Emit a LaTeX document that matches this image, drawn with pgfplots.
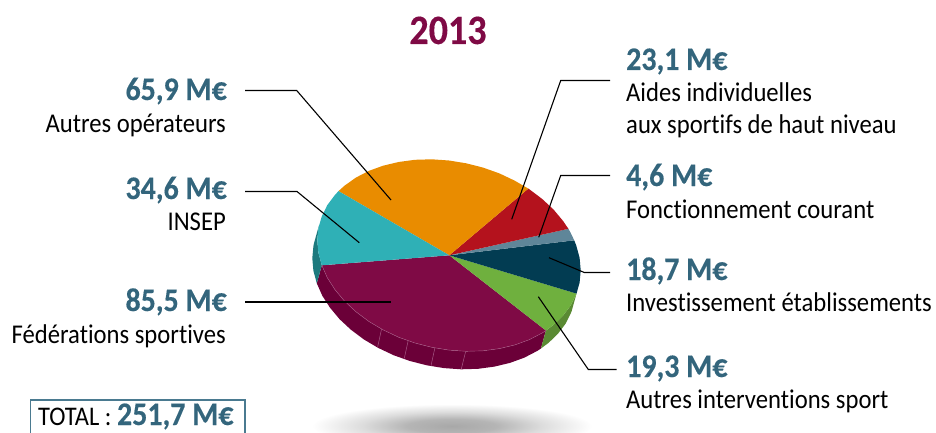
\documentclass[border=0pt]{standalone}
\usepackage{pgfplots}
\pgfplotsset{compat=1.18}
\usepackage{fontspec}
\setmainfont{Carlito}[FakeStretch=0.91,Ligatures=CommonOff,BoldFeatures={FakeBold=0.3}]
\definecolor{corange}{HTML}{E98C00}
\definecolor{cteal}{HTML}{2FB0B6}
\definecolor{cpurple}{HTML}{7F0A45}
\definecolor{cgreen}{HTML}{6FB03E}
\definecolor{cnavy}{HTML}{023C52}
\definecolor{cslate}{HTML}{5F8699}
\definecolor{cred}{HTML}{B4121D}
\definecolor{wpurple}{HTML}{6B0038}
\definecolor{wteal}{HTML}{1C7A7E}
\definecolor{wgreen}{HTML}{5A8A33}
\definecolor{lpurple}{HTML}{A65A85}
\definecolor{cval}{HTML}{33657C}
\definecolor{cbox}{HTML}{4A7A90}
\definecolor{shd}{HTML}{A8A8A8}
\pgfdeclareradialshading{shadowell}{\pgfpoint{0cm}{0cm}}{color(0bp)=(shd); color(8bp)=(shd!85!white); color(16bp)=(shd!40!white); color(25bp)=(white); color(50bp)=(white)}
\newcommand{\val}[3]{\node[anchor=base #1,inner sep=0pt,text=cval,font=\fontsize{33}{33}\selectfont\bfseries] at (axis cs:#2) {#3};}
\newcommand{\lab}[3]{\node[anchor=base #1,inner sep=0pt,text=black,font=\fontsize{27.2}{27.2}\selectfont] at (axis cs:#2) {#3};}
\begin{document}
\begin{tikzpicture}[x=1bp,y=1bp]
\path[use as bounding box] (0,0) rectangle (936,432);
\begin{axis}[at={(0,0)},anchor=south west,width=936bp,height=432bp,scale only axis,hide axis,
  xmin=0,xmax=936,ymin=0,ymax=432,y dir=reverse,enlargelimits=false]
\shade[shading=shadowell] (axis cs:452,426) ellipse [x radius=140bp,y radius=22bp];
% walls
\addplot[fill=wpurple,draw=none] coordinates {(545.9,330.5)(542.1,333.0)(529.2,339.7)(514.9,344.9)(499.4,348.6)(483.1,350.8)(466.2,351.3)(449,350.1)(431.8,347.3)(414.9,343.0)(398.6,337.2)(383.2,329.9)(368.8,321.4)(355.9,311.7)(344.5,301.1)(335.0,289.7)(327.3,277.7)(321.8,265.3)
 (316.8,283.3)(322.3,295.7)(330.0,307.7)(339.5,319.1)(350.9,329.7)(363.8,339.4)(378.2,347.9)(393.6,355.2)(409.9,361.0)(426.8,365.3)(444,368.1)(461.2,369.3)(478.1,368.8)(494.4,366.6)(509.9,362.9)(524.2,357.7)(537.1,351.0)(540.9,348.5)};
\addplot[fill=wgreen,draw=none] coordinates {(576.5,293.6)(576.2,294.3)(570.7,305.5)(563.0,315.7)(553.5,324.9)(545.9,330.5)(540.9,348.5)(548.5,342.9)(558.0,333.7)(565.7,323.5)(571.2,312.3)(571.5,311.6)};
\addplot[fill=wteal,draw=none] coordinates {(321.8,265.3)(318.4,252.8)(317.3,240.3)(318.4,228.0)(318.9,225.6)(313.9,243.6)(313.4,246.0)(312.3,258.3)(313.4,270.8)(316.8,283.3)};
% wall seams
\addplot[lpurple,line width=0.5pt] coordinates {(381.7,328.3)(377.7,346.7)};
\addplot[lpurple,line width=0.5pt] coordinates {(408.3,340)(404.3,358.3)};
\addplot[lpurple,line width=0.5pt] coordinates {(435,347.3)(431,365.7)};
\addplot[lpurple,line width=0.5pt] coordinates {(465.7,351.3)(461.3,369)};
% top face
\addplot[fill=cpurple,draw=none] coordinates {(449.3,255.3)(545.9,330.5)(542.1,333.0)(529.2,339.7)(514.9,344.9)(499.4,348.6)(483.1,350.8)(466.2,351.3)(449,350.1)(431.8,347.3)(414.9,343.0)(398.6,337.2)(383.2,329.9)(368.8,321.4)(355.9,311.7)(344.5,301.1)(335.0,289.7)(327.3,277.7)(321.8,265.3)};
\addplot[fill=cgreen,draw=none] coordinates {(449.3,255.3)(576.5,293.6)(576.2,294.3)(570.7,305.5)(563.0,315.7)(553.5,324.9)(545.9,330.5)};
\addplot[fill=cnavy,draw=none] coordinates {(449.3,255.3)(574.2,240.3)(576.2,245.3)(579.6,257.8)(580.7,270.3)(579.6,282.6)(576.5,293.6)};
\addplot[fill=cslate,draw=none] coordinates {(449.3,255.3)(568.4,228.8)(570.7,232.9)(574.2,240.3)};
\addplot[fill=cred,draw=none] coordinates {(449.3,255.3)(528.3,188.6)(529.2,189.2)(542.1,198.9)(553.5,209.5)(563.0,220.9)(568.4,228.8)};
\addplot[fill=corange,draw=none] coordinates {(449.3,255.3)(338.5,191.1)(344.5,185.7)(355.9,177.6)(368.8,170.9)(383.1,165.7)(398.6,162.0)(414.9,159.8)(431.8,159.3)(449,160.5)(466.2,163.3)(483.1,167.6)(499.4,173.4)(514.8,180.7)(528.3,188.6)};
\addplot[fill=cteal,draw=none] coordinates {(449.3,255.3)(321.8,265.3)(318.4,252.8)(317.3,240.3)(318.4,228.0)(321.8,216.3)(327.3,205.1)(335.0,194.9)(338.5,191.1)};
% highlight on the purple rim
\addplot[lpurple,line width=0.4pt] coordinates {(545.9,330.5)(542.1,333.0)(529.2,339.7)(514.9,344.9)(499.4,348.6)(483.1,350.8)(466.2,351.3)(449,350.1)(431.8,347.3)(414.9,343.0)(398.6,337.2)(383.2,329.9)(368.8,321.4)(355.9,311.7)(344.5,301.1)(335.0,289.7)(327.3,277.7)(321.8,265.3)};
% leader lines
\addplot[black,line width=1.1bp] coordinates {(245,90.5)(296.7,90.5)(391,200)};
\addplot[black,line width=1.1bp] coordinates {(245,191.5)(297,191.5)(359.3,242.7)};
\addplot[black,line width=2bp] coordinates {(245,302)(391,302)};
\addplot[black,line width=1.1bp] coordinates {(610,80.5)(560.7,80.5)(511.7,219.3)};
\addplot[black,line width=1.1bp] coordinates {(610,175.5)(560.7,175.5)(538.7,237.3)};
\addplot[black,line width=1.1bp] coordinates {(549,257.7)(584.3,272.5)(610,272.5)};
\addplot[black,line width=1.1bp] coordinates {(538.3,296.7)(588.3,369.5)(616.7,369.5)};
% title
\node[anchor=base,inner sep=0pt,text=cpurple,font=\fontsize{42}{42}\selectfont\bfseries] at (axis cs:448,44) {2013};
% left labels
\val{east}{227,100}{65,9 M€}
\lab{east}{226,132}{Autres opérateurs}
\val{east}{227,199}{34,6 M€}
\lab{east}{226,230}{INSEP}
\val{east}{227,311}{85,5 M€}
\lab{east}{226,343}{Fédérations sportives}
% right labels
\val{west}{626,70}{23,1 M€}
\lab{west}{626,101.7}{Aides individuelles}
\lab{west}{626,133}{aux sportifs de haut niveau}
\val{west}{626,186}{4,6 M€}
\lab{west}{626,218}{Fonctionnement courant}
\val{west}{626,280}{18,7 M€}
\lab{west}{626,311}{Investissement établissements}
\val{west}{626,377}{19,3 M€}
\lab{west}{626,408}{Autres interventions sport}
% total box
\addplot[cbox,line width=2pt] coordinates {(30.5,440)(30.5,400)(245,400)(245,440)};
\node[anchor=base west,inner sep=0pt,text=black,font=\fontsize{27}{27}\selectfont] at (axis cs:38,425) {TOTAL : \textcolor{cval}{\fontsize{33}{33}\selectfont\bfseries 251,7 M€}};
\end{axis}
\end{tikzpicture}
\end{document}
